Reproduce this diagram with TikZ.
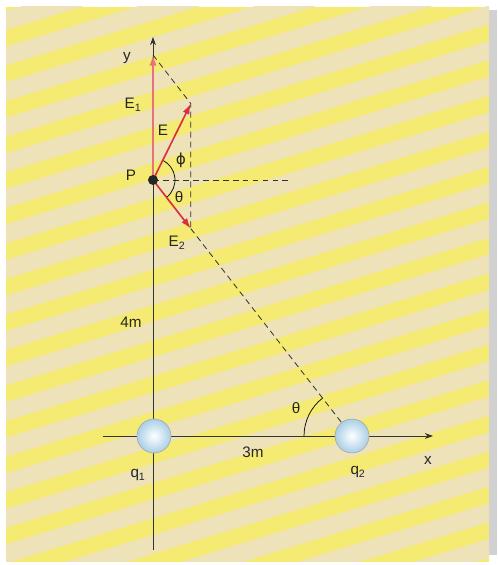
\documentclass[tikz,border=0pt]{standalone}
\usepackage{fontspec}
\setmainfont{Liberation Sans}
\newfontfamily\greekfont{DejaVu Sans}
\usetikzlibrary{arrows.meta, calc}
\definecolor{pageyellow}{HTML}{F5EA72}
\definecolor{pagebeige}{HTML}{EEE2B8}
\definecolor{fieldred}{HTML}{D8303E}
\definecolor{fieldpink}{HTML}{E8727C}
\definecolor{chargeblue}{HTML}{A9CFE6}

\begin{document}
\begin{tikzpicture}[x=0.03cm, y=0.03cm, font=\fontsize{13}{15}\selectfont,
    axis/.style={-{Stealth[length=7pt, width=5pt]}, line width=0.6pt, black!80},
    field/.style={-{Latex[length=9pt, width=6pt]}, line width=1.4pt, fieldred},
    guide/.style={dash pattern=on 5pt off 3.5pt, line width=0.7pt, black!80},
    charge/.style={circle, draw=black!35, line width=0.5pt, minimum size=1.02cm, inner sep=0pt,
      inner color=white, outer color=chargeblue},
    lbl/.style={text=black!85, inner sep=1pt}]
  \useasboundingbox (0,0) rectangle (497,565);
  % Page
  \fill[black!18] (489,10) rectangle (497,555);
  \begin{scope}
    \clip (6,3) rectangle (489,558);
    \fill[pageyellow] (6,3) rectangle (489,558);
    \foreach \k in {-6,...,19}
      \fill[pagebeige, rotate=17] (-100,\k*34) rectangle (700,\k*34+18);
  \end{scope}
  % Axes
  \draw[axis] (153,15) -- (153,528);
  \draw[axis] (103,129) -- (433,129);
  % Charges and points
  \node[charge] (q1) at (154,129) {};
  \node[charge] (q2) at (352,129) {};
  \node[inner sep=0pt, minimum size=0.3cm] (P) at (153,385) {};
  \coordinate (E1tip) at (153,510);
  \coordinate (E2tip) at ($(P)!0.19!(q2)$);
  \coordinate (Etip) at ($(E1tip)+(E2tip)-(P)$);
  \coordinate (hzEnd) at (288,385);
  % Dashed guides
  \draw[guide] (E1tip) -- (Etip) -- (E2tip);
  \draw[guide] (E2tip) -- (q2);
  \draw[guide] (P.center) -- (hzEnd);
  % Angles
  \draw[line width=0.6pt] ($(P)+(-52:22)$) arc[start angle=-52, end angle=63, radius=0.66cm];
  \draw[line width=0.6pt] ($(q2)+(180:48)$) arc[start angle=180, end angle=128, radius=1.44cm];
  % Field vectors
  \draw[field, fieldpink, line width=1.1pt] (P.center) -- (E1tip);
  \draw[field] (P.center) -- (Etip);
  \draw[field] (P.center) -- (E2tip);
  \fill[black!85] (P) circle[radius=0.15cm];
  % Labels
  \node[lbl] (ylbl) at (127,507) {y};
  \node[lbl] (xlbl) at (428,105) {x};
  \node[lbl] (E1lbl) at (133,460) {E\textsubscript{1}};
  \node[lbl] (Elbl) at (163,435) {E};
  \node[lbl] (E2lbl) at (177,322) {E\textsubscript{2}};
  \node[lbl] (Plbl) at (131,390) {P};
  \node[lbl] (philbl) at (181,405) {\greekfont ϕ};
  \node[lbl] (thPlbl) at (179,368) {θ};
  \node[lbl] (thqlbl) at (296,157) {θ};
  \node[lbl] (ylen) at (131,243) {4m};
  \node[lbl] (xlen) at (253,113) {3m};
  \node[lbl] (q1lbl) at (138,90) {q\textsubscript{1}};
  \node[lbl] (q2lbl) at (358,93) {q\textsubscript{2}};
\end{tikzpicture}
\end{document}
